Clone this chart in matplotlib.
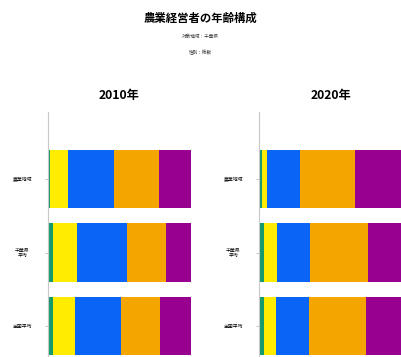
import matplotlib
matplotlib.use("Agg")
import matplotlib.pyplot as plt
import numpy as np

plt.rcParams['font.family'] = ['Noto Sans CJK JP', 'DejaVu Sans']

# Data (share of farm operators by age group, %)
categories = ["農業地域", "千葉県\n平均", "全国平均"]
age_colors = ["#159a6e", "#ffec00", "#0a64f5", "#f5a500", "#98008f"]

shares_2010 = [
    [1.6, 12.4, 32.0, 31.6, 22.4],
    [3.5, 16.8, 35.1, 26.8, 17.8],
    [3.5, 15.2, 32.5, 27.1, 21.7],
]
shares_2020 = [
    [1.9, 4.0, 22.8, 38.4, 32.9],
    [3.5, 9.0, 23.3, 40.7, 23.5],
    [3.5, 8.7, 23.1, 39.3, 25.4],
]

fig = plt.figure(figsize=(4.01, 3.57), dpi=100)

fig.text(0.5, 0.948, "農業経営者の年齢構成", ha="center", va="center",
         fontsize=8.2, fontweight="bold")
fig.text(0.5, 0.897, "対象地域：千葉県", ha="center", va="center", fontsize=3.3, color="#333333")
fig.text(0.5, 0.853, "性別：総数", ha="center", va="center", fontsize=3.3, color="#333333")


def draw_panel(ax, shares, year):
    y = np.arange(len(categories))
    data = np.array(shares)
    left = np.zeros(len(categories))
    for j in range(data.shape[1]):
        ax.barh(y, data[:, j], left=left, height=0.79, color=age_colors[j])
        left += data[:, j]
    ax.set_xlim(0, 100)
    ax.set_ylim(2.42, -0.91)
    ax.set_yticks(y)
    ax.set_yticklabels(categories, fontsize=3.5, ha="center", linespacing=1.1)
    ax.tick_params(axis="y", length=2.5, width=0.6, color="#bbbbbb", pad=16)
    ax.set_xticks([])
    for s in ["top", "right", "bottom"]:
        ax.spines[s].set_visible(False)
    ax.spines["left"].set_color("#c8c8c8")
    ax.spines["left"].set_linewidth(0.8)
    ax.set_title(year, fontsize=8.8, fontweight="bold", pad=9)


ax1 = fig.add_axes([48 / 401, 0.0, 143 / 401, 245 / 357])
draw_panel(ax1, shares_2010, "2010年")
ax2 = fig.add_axes([259 / 401, 0.0, 143 / 401, 245 / 357])
draw_panel(ax2, shares_2020, "2020年")

fig.savefig("out.png", dpi=100)
